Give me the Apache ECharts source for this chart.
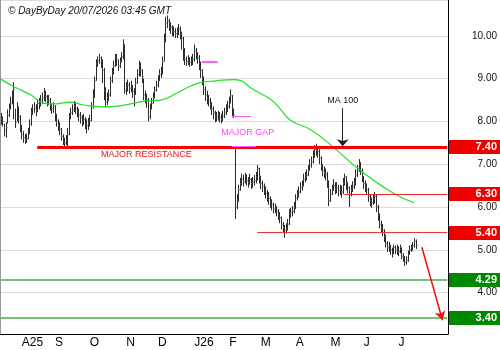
<!DOCTYPE html>
<html>
<head>
<meta charset="utf-8">
<script src="https://cdn.jsdelivr.net/npm/echarts@6/dist/echarts.min.js"></script>
<style>
  html, body { margin: 0; padding: 0; background: #fff; }
  #chart { width: 500px; height: 350px; }
</style>
</head>
<body>
<div id="chart"></div>
<script>
// daily bars, 16 Jul 2025 .. 17 Jul 2026
var closes = [8.05,8.00,7.80,7.85,8.15,8.30,8.45,8.60,8.75,7.98,
  8.30,8.10,7.90,7.70,7.62,7.55,7.60,7.72,7.95,8.20,
  8.28,8.32,8.25,8.42,8.40,8.50,8.55,8.65,8.58,8.48,
  8.50,8.38,8.30,8.35,8.15,8.00,7.90,7.82,7.65,7.55,
  7.50,7.55,7.70,8.12,8.20,8.28,8.36,8.30,8.22,8.15,
  8.08,8.00,8.05,7.95,7.90,7.95,8.02,8.35,8.60,8.95,
  9.35,9.42,9.48,9.40,9.20,8.72,8.45,8.55,8.62,8.95,
  9.15,9.30,9.50,9.45,9.30,9.40,9.52,9.75,8.72,8.80,
  8.85,8.78,8.82,8.70,8.65,8.90,9.10,9.30,9.20,9.05,
  8.62,8.55,8.50,8.12,8.30,8.42,8.55,8.72,8.85,8.95,
  9.10,9.15,9.40,9.90,10.30,10.35,10.28,10.20,10.12,10.10,
  10.05,10.08,10.15,10.05,9.95,9.70,9.45,9.40,9.42,9.38,
  9.40,9.45,9.65,9.58,9.50,9.35,9.20,9.00,8.75,8.62,
  8.55,8.48,8.40,8.30,8.20,8.10,8.12,8.15,8.10,8.05,
  8.12,8.20,8.28,8.35,8.45,8.60,8.30,8.15,6.00,6.15,
  6.40,6.55,6.65,6.60,6.70,6.62,6.58,6.65,6.55,6.58,
  6.62,6.70,6.90,6.72,6.55,6.48,6.40,6.32,6.25,6.20,
  6.10,6.05,5.95,5.98,5.90,5.82,5.75,5.60,5.52,5.45,
  5.50,5.60,5.85,5.88,5.90,6.00,6.20,6.28,6.35,6.45,
  6.50,6.65,6.70,6.75,6.85,7.00,7.05,7.20,7.35,7.32,
  7.30,7.15,6.95,6.85,6.80,6.75,6.60,6.15,6.30,6.40,
  6.50,6.42,6.45,6.38,6.40,6.35,6.55,6.70,6.55,6.45,
  6.30,6.40,6.48,6.55,6.75,6.85,7.00,6.85,6.70,6.55,
  6.48,6.40,6.25,6.15,6.10,6.20,6.25,6.00,5.80,5.60,
  5.52,5.45,5.30,5.15,5.05,5.08,5.00,4.90,5.05,5.00,
  5.00,4.95,5.05,4.85,4.80,4.70,4.75,4.90,5.00,5.05,
  5.10,5.20,5.10];

var highs = [8.20,8.12,7.95,7.98,8.28,8.42,8.58,8.72,8.92,8.30,
  8.45,8.35,8.15,7.92,7.78,7.70,7.72,7.85,8.05,8.32,
  8.40,8.45,8.40,8.52,8.55,8.62,8.68,8.78,8.72,8.62,
  8.62,8.55,8.42,8.45,8.38,8.18,8.05,7.98,7.85,7.70,
  7.62,7.68,7.85,8.20,8.32,8.40,8.48,8.45,8.35,8.30,
  8.22,8.15,8.18,8.10,8.05,8.08,8.15,8.45,8.75,9.05,
  9.45,9.52,9.58,9.52,9.45,9.25,8.80,8.68,8.75,9.05,
  9.25,9.42,9.58,9.58,9.45,9.50,9.62,9.92,9.80,8.92,
  8.98,8.92,8.95,8.85,8.78,9.02,9.22,9.42,9.38,9.22,
  9.00,8.72,8.65,8.55,8.42,8.55,8.68,8.82,8.95,9.08,
  9.22,9.28,9.52,10.05,10.45,10.48,10.40,10.32,10.25,10.22,
  10.18,10.20,10.28,10.22,10.10,9.98,9.72,9.52,9.55,9.50,
  9.52,9.58,9.80,9.72,9.62,9.55,9.40,9.22,9.05,8.82,
  8.72,8.62,8.55,8.45,8.35,8.25,8.22,8.25,8.22,8.18,
  8.25,8.32,8.40,8.48,8.58,8.75,8.62,8.30,7.35,6.30,
  6.52,6.68,6.78,6.75,6.80,6.76,6.70,6.78,6.68,6.70,
  6.75,6.82,6.98,6.92,6.72,6.62,6.55,6.48,6.40,6.35,
  6.25,6.18,6.10,6.08,6.02,5.95,5.88,5.78,5.65,5.58,
  5.62,5.72,5.95,5.98,6.02,6.12,6.30,6.40,6.48,6.58,
  6.62,6.78,6.82,6.88,6.98,7.12,7.18,7.32,7.45,7.48,
  7.42,7.35,7.18,7.00,6.95,6.90,6.82,6.62,6.42,6.52,
  6.65,6.58,6.58,6.52,6.52,6.50,6.68,6.78,6.72,6.58,
  6.48,6.52,6.60,6.68,6.88,6.98,7.12,7.05,6.90,6.72,
  6.62,6.55,6.45,6.30,6.22,6.30,6.35,6.28,6.05,5.85,
  5.68,5.60,5.48,5.35,5.20,5.18,5.12,5.05,5.12,5.10,
  5.12,5.08,5.12,5.05,4.92,4.85,4.85,4.98,5.10,5.12,
  5.18,5.27,5.24];

var lows = [7.92,7.88,7.65,7.62,7.95,8.10,8.28,8.40,8.05,7.85,
  8.00,7.95,7.75,7.58,7.50,7.48,7.50,7.58,7.70,7.90,
  8.15,8.20,8.12,8.22,8.28,8.35,8.40,8.48,8.45,8.35,
  8.38,8.25,8.18,8.20,8.00,7.88,7.78,7.68,7.55,7.45,
  7.42,7.45,7.42,7.68,8.05,8.15,8.22,8.18,8.10,8.00,
  7.95,7.88,7.92,7.82,7.72,7.80,7.88,8.00,8.30,8.55,
  8.95,9.28,9.35,9.25,8.90,8.50,8.35,8.38,8.48,8.58,
  8.90,9.10,9.28,9.30,9.18,9.25,9.38,9.45,8.65,8.62,
  8.70,8.65,8.68,8.55,8.35,8.62,8.88,9.05,9.05,8.90,
  8.50,8.42,8.32,8.00,8.05,8.28,8.42,8.55,8.70,8.80,
  8.95,9.02,9.10,9.40,9.85,10.18,10.12,10.05,10.00,9.98,
  9.95,9.95,10.02,9.92,9.68,9.42,9.32,9.30,9.32,9.28,
  9.30,9.32,9.40,9.45,9.35,9.20,9.02,8.85,8.62,8.48,
  8.40,8.35,8.28,8.15,8.05,7.98,8.00,8.02,7.98,7.95,
  8.00,8.08,8.15,8.22,8.30,8.42,8.10,8.08,5.72,5.95,
  6.12,6.38,6.50,6.48,6.55,6.50,6.45,6.52,6.42,6.45,
  6.50,6.55,6.62,6.55,6.42,6.35,6.28,6.20,6.12,6.05,
  5.98,5.92,5.85,5.86,5.78,5.70,5.62,5.48,5.40,5.28,
  5.38,5.45,5.58,5.75,5.78,5.85,5.95,6.15,6.22,6.32,
  6.38,6.48,6.58,6.62,6.72,6.85,6.92,7.02,7.15,7.20,
  7.15,7.00,6.85,6.72,6.68,6.62,6.45,6.02,6.12,6.28,
  6.38,6.30,6.32,6.25,6.28,6.22,6.30,6.50,6.40,6.32,
  6.00,6.25,6.35,6.42,6.50,6.70,6.82,6.75,6.58,6.42,
  6.35,6.28,6.12,6.02,5.98,6.05,6.08,5.88,5.68,5.50,
  5.40,5.32,5.18,5.05,4.95,4.95,4.88,4.82,4.90,4.90,
  4.88,4.85,4.92,4.78,4.72,4.62,4.65,4.72,4.88,4.95,
  4.98,5.05,5.02];

// MA 100 read at a few bars
var maIdx  = [0, 9, 19, 27, 33, 44, 49, 57, 66, 76, 92, 101, 111, 120, 126, 136, 147, 152, 158, 171, 177, 183, 196, 210, 227, 248, 261];
var maVals = [8.99, 8.80, 8.62, 8.43, 8.41, 8.45, 8.41, 8.36, 8.34, 8.37, 8.48, 8.50, 8.66, 8.83, 8.91, 8.95, 8.98, 8.95, 8.78, 8.50, 8.27, 8.03, 7.80, 7.40, 6.86, 6.32, 6.10];

var resistance = 7.40;
var lineLevels = [6.30, 5.40];
var targetLevels = [4.29, 3.40];
var boxLevels = [7.40, 6.30, 5.40];
var gapLevels = [9.39, 8.12, 7.43];
var monthLetters = ['J', 'F', 'M', 'A', 'M', 'J', 'J', 'A', 'S', 'O', 'N', 'D'];

// weekday categories, axis runs a few weeks past the last bar
var nDays = 283;
var days = [];
var d = new Date(Date.UTC(2025, 6, 16));
while (days.length < nDays) {
    var wd = d.getUTCDay();
    if (wd !== 0 && wd !== 6) days.push(new Date(d.getTime()));
    d.setUTCDate(d.getUTCDate() + 1);
}
var categories = days.map(function (x) { return x.toISOString().slice(0, 10); });
var lastBar = closes.length - 1;
var isMonthStart = days.map(function (x, i) {
    return i > 0 && i <= lastBar + 5 && x.getUTCMonth() !== days[i - 1].getUTCMonth();
});
var monthLabel = function (i) {
    var m = days[i].getUTCMonth();
    var s = monthLetters[m];
    if (m === 0 || i === isMonthStart.indexOf(true)) s += String(days[i].getUTCFullYear()).slice(2);
    return s;
};

var bars = closes.map(function (c, i) { return [i, highs[i], lows[i], c]; });
var maData = maIdx.map(function (i, k) { return [i, maVals[k]]; });

var FONT = 'Liberation Sans, Arial, sans-serif';
var endIdx = nDays - 1;
var PINK = '#ff5cff';

var myChart = echarts.init(document.getElementById('chart'));

var hline = function (v, from, to, color, width) {
    return [{coord: [from, v], lineStyle: {color: color, width: width, type: 'solid'}}, {coord: [to, v]}];
};

var option = {
    animation: false,
    title: {
        text: '\u00a9 DayByDay 20/07/2026 03:45 GMT',
        left: 3, top: 1,
        textStyle: {fontFamily: FONT, fontSize: 10, fontStyle: 'italic', fontWeight: 'normal', color: '#111'}
    },
    grid: {left: 0, right: 52, top: 0, bottom: 16},
    xAxis: {
        type: 'category',
        data: categories,
        boundaryGap: true,
        axisLine: {lineStyle: {color: '#000', width: 1}},
        axisTick: {
            length: 16,
            lineStyle: {color: '#000'},
            interval: function (i) { return isMonthStart[i]; }
        },
        axisLabel: {
            interval: function (i) { return isMonthStart[i]; },
            formatter: function (v, i) { return monthLabel(i); },
            align: 'left',
            padding: [0, 0, 0, 2],
            margin: 3,
            fontFamily: FONT, fontSize: 12, color: '#000'
        },
        splitLine: {show: false}
    },
    yAxis: [{
        type: 'value',
        position: 'right',
        min: 3.03, max: 10.84,
        splitNumber: 8,
        axisLine: {show: true, lineStyle: {color: '#000'}},
        axisTick: {show: false},
        axisLabel: {
            align: 'right', margin: 49,
            fontFamily: FONT, fontSize: 10, color: '#111',
            formatter: function (v) { return Math.abs(v - Math.round(v)) < 1e-6 ? v.toFixed(2) : ''; }
        },
        splitLine: {lineStyle: {color: '#dcdcdc', width: 1}}
    }, {
        type: 'value',
        position: 'left',
        min: 3.03, max: 10.84,
        axisLine: {show: true, lineStyle: {color: '#999'}},
        axisTick: {show: false},
        axisLabel: {show: false},
        splitLine: {show: false}
    }],
    series: [{
        type: 'custom',
        name: 'price',
        z: 1,
        data: bars,
        encode: {x: 0, y: [1, 2, 3]},
        clip: true,
        renderItem: function (params, api) {
            var hi = api.coord([api.value(0), api.value(1)]);
            var lo = api.coord([api.value(0), api.value(2)]);
            var cl = api.coord([api.value(0), api.value(3)]);
            var x = Math.round(hi[0]) + 0.5;
            return {
                type: 'group',
                children: [
                    {type: 'line', shape: {x1: x, y1: hi[1], x2: x, y2: lo[1]}, style: {stroke: '#2a2a2a', lineWidth: 1}},
                    {type: 'line', shape: {x1: x, y1: cl[1], x2: x + 1.5, y2: cl[1]}, style: {stroke: '#888', lineWidth: 1}}
                ]
            };
        }
    }, {
        type: 'line',
        name: 'MA 100',
        z: 5,
        data: maData,
        smooth: true,
        symbol: 'none',
        lineStyle: {color: '#22e022', width: 1.2},
        markLine: {
            silent: true,
            z: 6,
            symbol: ['none', 'none'],
            label: {show: false},
            data: [
                hline(targetLevels[0], 0, endIdx, '#77c177', 2),
                hline(targetLevels[1], 0, endIdx, '#77c177', 2),
                hline(resistance, 23, endIdx, '#ff0000', 3),
                hline(lineLevels[0], 217, endIdx, '#ee2222', 1),
                hline(lineLevels[1], 162, endIdx, '#ee3333', 1),
                hline(gapLevels[0], 127, 137, PINK, 2),
                hline(gapLevels[1], 146, 158, PINK, 1),
                hline(gapLevels[2], 146, 161, PINK, 1),
                [{coord: [216, 8.31], symbol: 'none', lineStyle: {color: '#222', width: 1, type: 'solid'}},
                 {coord: [216, 7.42], symbol: 'arrow', symbolSize: [9, 7]}],
                [{coord: [266, 5.06], symbol: 'none', lineStyle: {color: '#ee1111', width: 1.5, type: 'solid'}},
                 {coord: [278.7, 3.35], symbol: 'arrow', symbolSize: [8, 9]}]
            ]
        },
        markPoint: {
            silent: true,
            symbol: 'circle',
            symbolSize: 1,
            itemStyle: {color: 'rgba(0,0,0,0)'},
            data: [
                {coord: [92, 7.23], label: {show: true, position: 'inside', formatter: 'MAJOR RESISTANCE', color: '#ee1111', fontFamily: FONT, fontSize: 9}},
                {coord: [156, 7.73], label: {show: true, position: 'inside', formatter: 'MAJOR GAP', color: '#ff44ff', fontFamily: FONT, fontSize: 9}},
                {coord: [216, 8.50], label: {show: true, position: 'inside', formatter: 'MA 100', color: '#111', fontFamily: FONT, fontSize: 9}}
            ]
        }
    }]
};

myChart.setOption(option);

// value boxes on the right edge
var boxes = [];
var addBox = function (v, color) {
    var y = myChart.convertToPixel({yAxisIndex: 0}, v);
    boxes.push({type: 'rect', shape: {x: 449, y: Math.round(y) - 7, width: 51, height: 14}, style: {fill: color}, z: 100});
    boxes.push({type: 'text', x: 497, y: Math.round(y), style: {text: v.toFixed(2), fill: '#fff', font: 'bold 11px ' + FONT, align: 'right', verticalAlign: 'middle'}, z: 101});
};
boxLevels.forEach(function (v) { addBox(v, '#ee0000'); });
targetLevels.forEach(function (v) { addBox(v, '#008800'); });
myChart.setOption({graphic: boxes});
</script>
</body>
</html>
